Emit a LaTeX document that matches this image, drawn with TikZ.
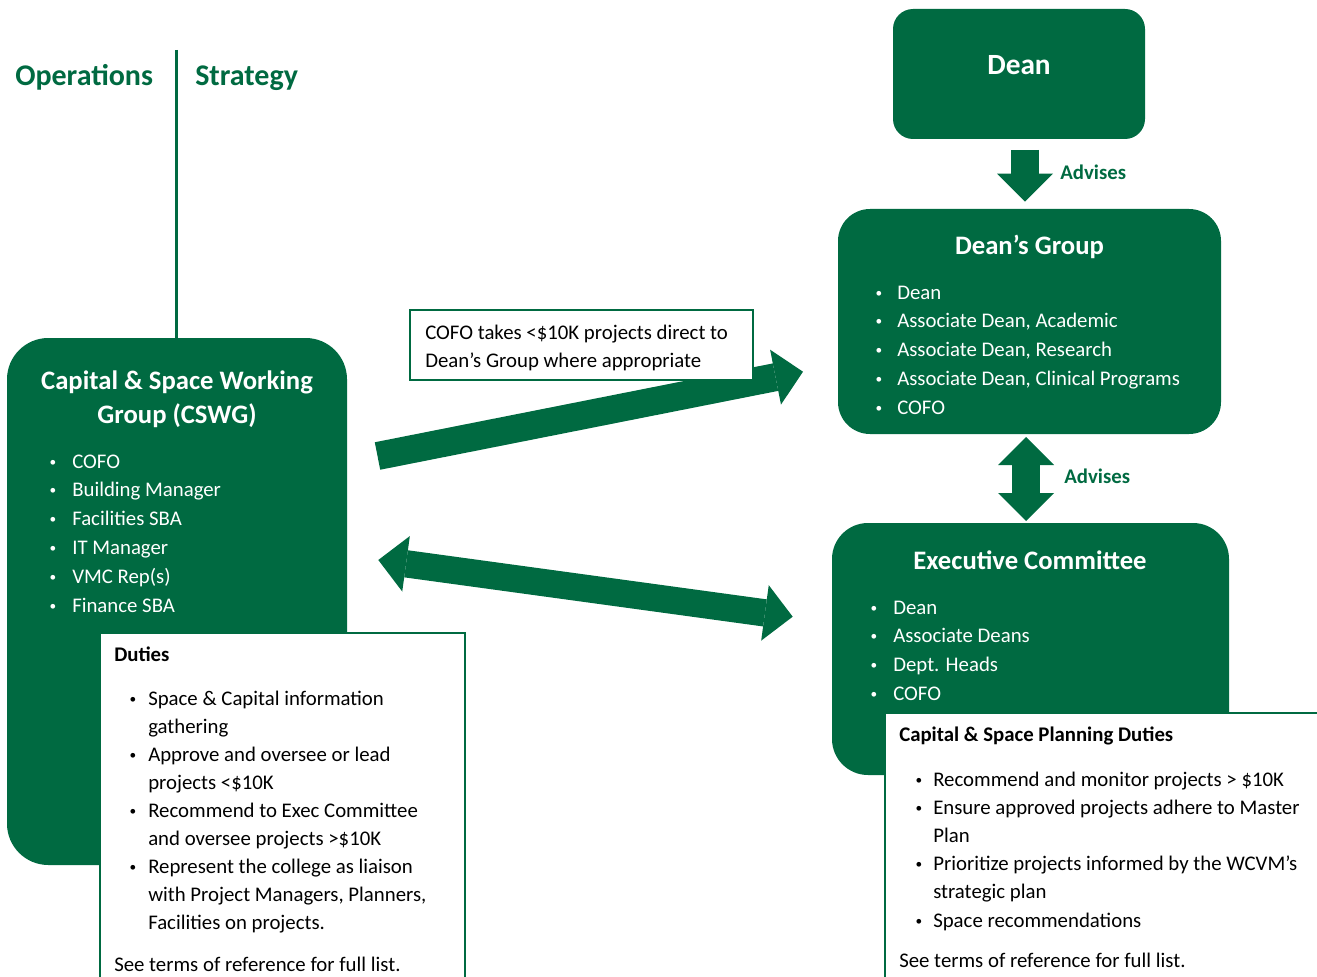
\documentclass[tikz,border=0pt]{standalone}
\usepackage{fontspec}
\setmainfont{Carlito}
\usetikzlibrary{arrows.meta}
\definecolor{uGreen}{RGB}{0,106,65}
\newcommand{\bodyfont}{\fontsize{15.6}{19}\selectfont}
\newcommand{\smallbul}{\raisebox{1.4pt}{\fontsize{10}{10}\selectfont\textbullet}}
\begin{document}
\begin{tikzpicture}[x=0.75pt,y=-0.75pt,
  gbox/.style={fill=uGreen, draw=none, inner sep=0pt},
  wbox/.style={fill=white, draw=uGreen, line width=1pt, inner sep=0pt},
  ttl/.style={font=\fontsize{20}{24}\selectfont\bfseries, text=white, inner sep=0pt, anchor=base},
  head/.style={font=\fontsize{22.5}{27}\selectfont\bfseries, text=uGreen, inner sep=0pt, anchor=base west},
  itm/.style={font=\bodyfont, inner sep=0pt, anchor=base west},
  bul/.style={font=\bodyfont, inner sep=0pt, anchor=base},
  lbl/.style={font=\bodyfont\bfseries, text=uGreen, inner sep=0pt, anchor=base west},
  blockarrow/.style={draw=uGreen, line width=21pt,
    arrows={-Triangle[length=21pt,width=42pt,line width=0pt]}},
  blockboth/.style={draw=uGreen, line width=20.5pt,
    arrows={Triangle[length=21pt,width=42pt,line width=0pt]-Triangle[length=21pt,width=42pt,line width=0pt]}},
 ]
\useasboundingbox (0,0) rectangle (1317,977);
\clip (0,0) rectangle (1317,977);

% ---- green group boxes ----
\node[gbox, rounded corners=15pt, minimum width=189pt, minimum height=97.5pt] (dean) at (1019,74) {};
\node[gbox, rounded corners=24pt, minimum width=287.25pt, minimum height=168.75pt] (dg) at (1029.5,321.5) {};
\node[gbox, rounded corners=27pt, minimum width=297.75pt, minimum height=189pt] (exec) at (1030.5,649) {};
\node[gbox, rounded corners=31pt, minimum width=255pt, minimum height=395.25pt] (cswg) at (177,601.5) {};

% ---- white duty boxes ----
\node[wbox, minimum width=273.75pt, minimum height=275.25pt] (duties) at (282.5,816.5) {};
\node[wbox, minimum width=333.75pt, minimum height=215.25pt] (eduties) at (1107.5,856.5) {};

% ---- column headings and divider ----
\node[head] (ops) at (15,86) {Operations};
\node[head] (strat) at (195,86) {Strategy};
\coordinate (divtop) at (176.5,50);
\draw[uGreen, line width=2.25pt] (divtop) -- (divtop |- cswg.north);

% ---- titles ----
\node[ttl, font=\fontsize{22}{26}\selectfont\bfseries] (deanT) at (1019,75) {Dean};
\node[ttl] (dgT) at (1029.5,254) {Dean’s Group};
\node[ttl] (execT) at (1030,569) {Executive Committee};
\node[ttl] (cswgT1) at (177,389) {Capital \& Space Working};
\node[ttl] (cswgT2) at (177,423) {Group (CSWG)};

% ---- member lists ----
\foreach \t [count=\i from 0] in {COFO, Building Manager, Facilities SBA, IT Manager, VMC Rep(s), Finance SBA} {
  \node[bul, text=white] (cb-\i) at (53,468+28.8*\i) {\smallbul};
  \node[itm, text=white] (ci-\i) at (72,468+28.8*\i) {\t};
}
\foreach \t [count=\i from 0] in {Dean, {Associate Dean, Academic}, {Associate Dean, Research}, {Associate Dean, Clinical Programs}, COFO} {
  \node[bul, text=white] (gb-\i) at (879,299+28.75*\i) {\smallbul};
  \node[itm, text=white] (gi-\i) at (897,299+28.75*\i) {\t};
}
\foreach \t [count=\i from 0] in {Dean, Associate Deans, Dept. Heads, COFO} {
  \node[bul, text=white] (eb-\i) at (874,614+28.7*\i) {\smallbul};
  \node[itm, text=white] (ei-\i) at (893,614+28.7*\i) {\t};
}

% ---- CSWG duties ----
\node[itm, font=\bodyfont\bfseries] (dutiesT) at (114,661) {Duties};
\foreach \b/\t [count=\i from 0] in {1/Space \& Capital information, 0/gathering, 1/Approve and oversee or lead, 0/projects <\$10K, 1/Recommend to Exec Committee, 0/and oversee projects >\$10K, 1/Represent the college as liaison, 0/{with Project Managers, Planners,}, 0/Facilities on projects.} {
  \ifnum\b=1 \node[bul] (db-\i) at (133,705+28*\i) {\smallbul};\fi
  \node[itm] (di-\i) at (148,705+28*\i) {\t};
}
\node[itm] (dutiesS) at (114,971) {See terms of reference for full list.};

% ---- Executive Committee duties ----
\node[itm, font=\bodyfont\bfseries] (eduT) at (899,741.5) {Capital \& Space Planning Duties};
\foreach \b/\t [count=\i from 0] in {1/Recommend and monitor projects > \$10K, 1/Ensure approved projects adhere to Master, 0/Plan, 1/Prioritize projects informed by the WCVM’s, 0/strategic plan, 1/Space recommendations} {
  \ifnum\b=1 \node[bul] (xb-\i) at (919,786+28.2*\i) {\smallbul};\fi
  \node[itm] (xi-\i) at (933,786+28.2*\i) {\t};
}
\node[itm] (eduS) at (899,967.5) {See terms of reference for full list.};

% ---- block arrows ----
\coordinate (a1s) at (1025,150);
\coordinate (a1e) at (1025,201.7);
\draw[blockarrow] (a1s) -- (a1e);
\node[lbl] (adv1) at (1060,179.5) {Advises};

\coordinate (a2s) at (1026,437);
\coordinate (a2e) at (1026,521);
\draw[blockboth] (a2s) -- (a2e);
\node[lbl] (adv2) at (1064,483) {Advises};

\coordinate (a3s) at (377.5,456);
\coordinate (a3e) at (803,371.7);
\draw[blockarrow] (a3s) -- (a3e);

\coordinate (a4s) at (378.3,560);
\coordinate (a4e) at (792.7,616.7);
\draw[blockboth] (a4s) -- (a4e);

% ---- note on the direct route ----
\node[wbox, minimum width=257.25pt, minimum height=52.5pt] (note) at (581.5,345) {};
\node[itm] (note1) at (425,339) {COFO takes <\$10K projects direct to};
\node[itm] (note2) at (425,367) {Dean’s Group where appropriate};
\end{tikzpicture}
\end{document}
